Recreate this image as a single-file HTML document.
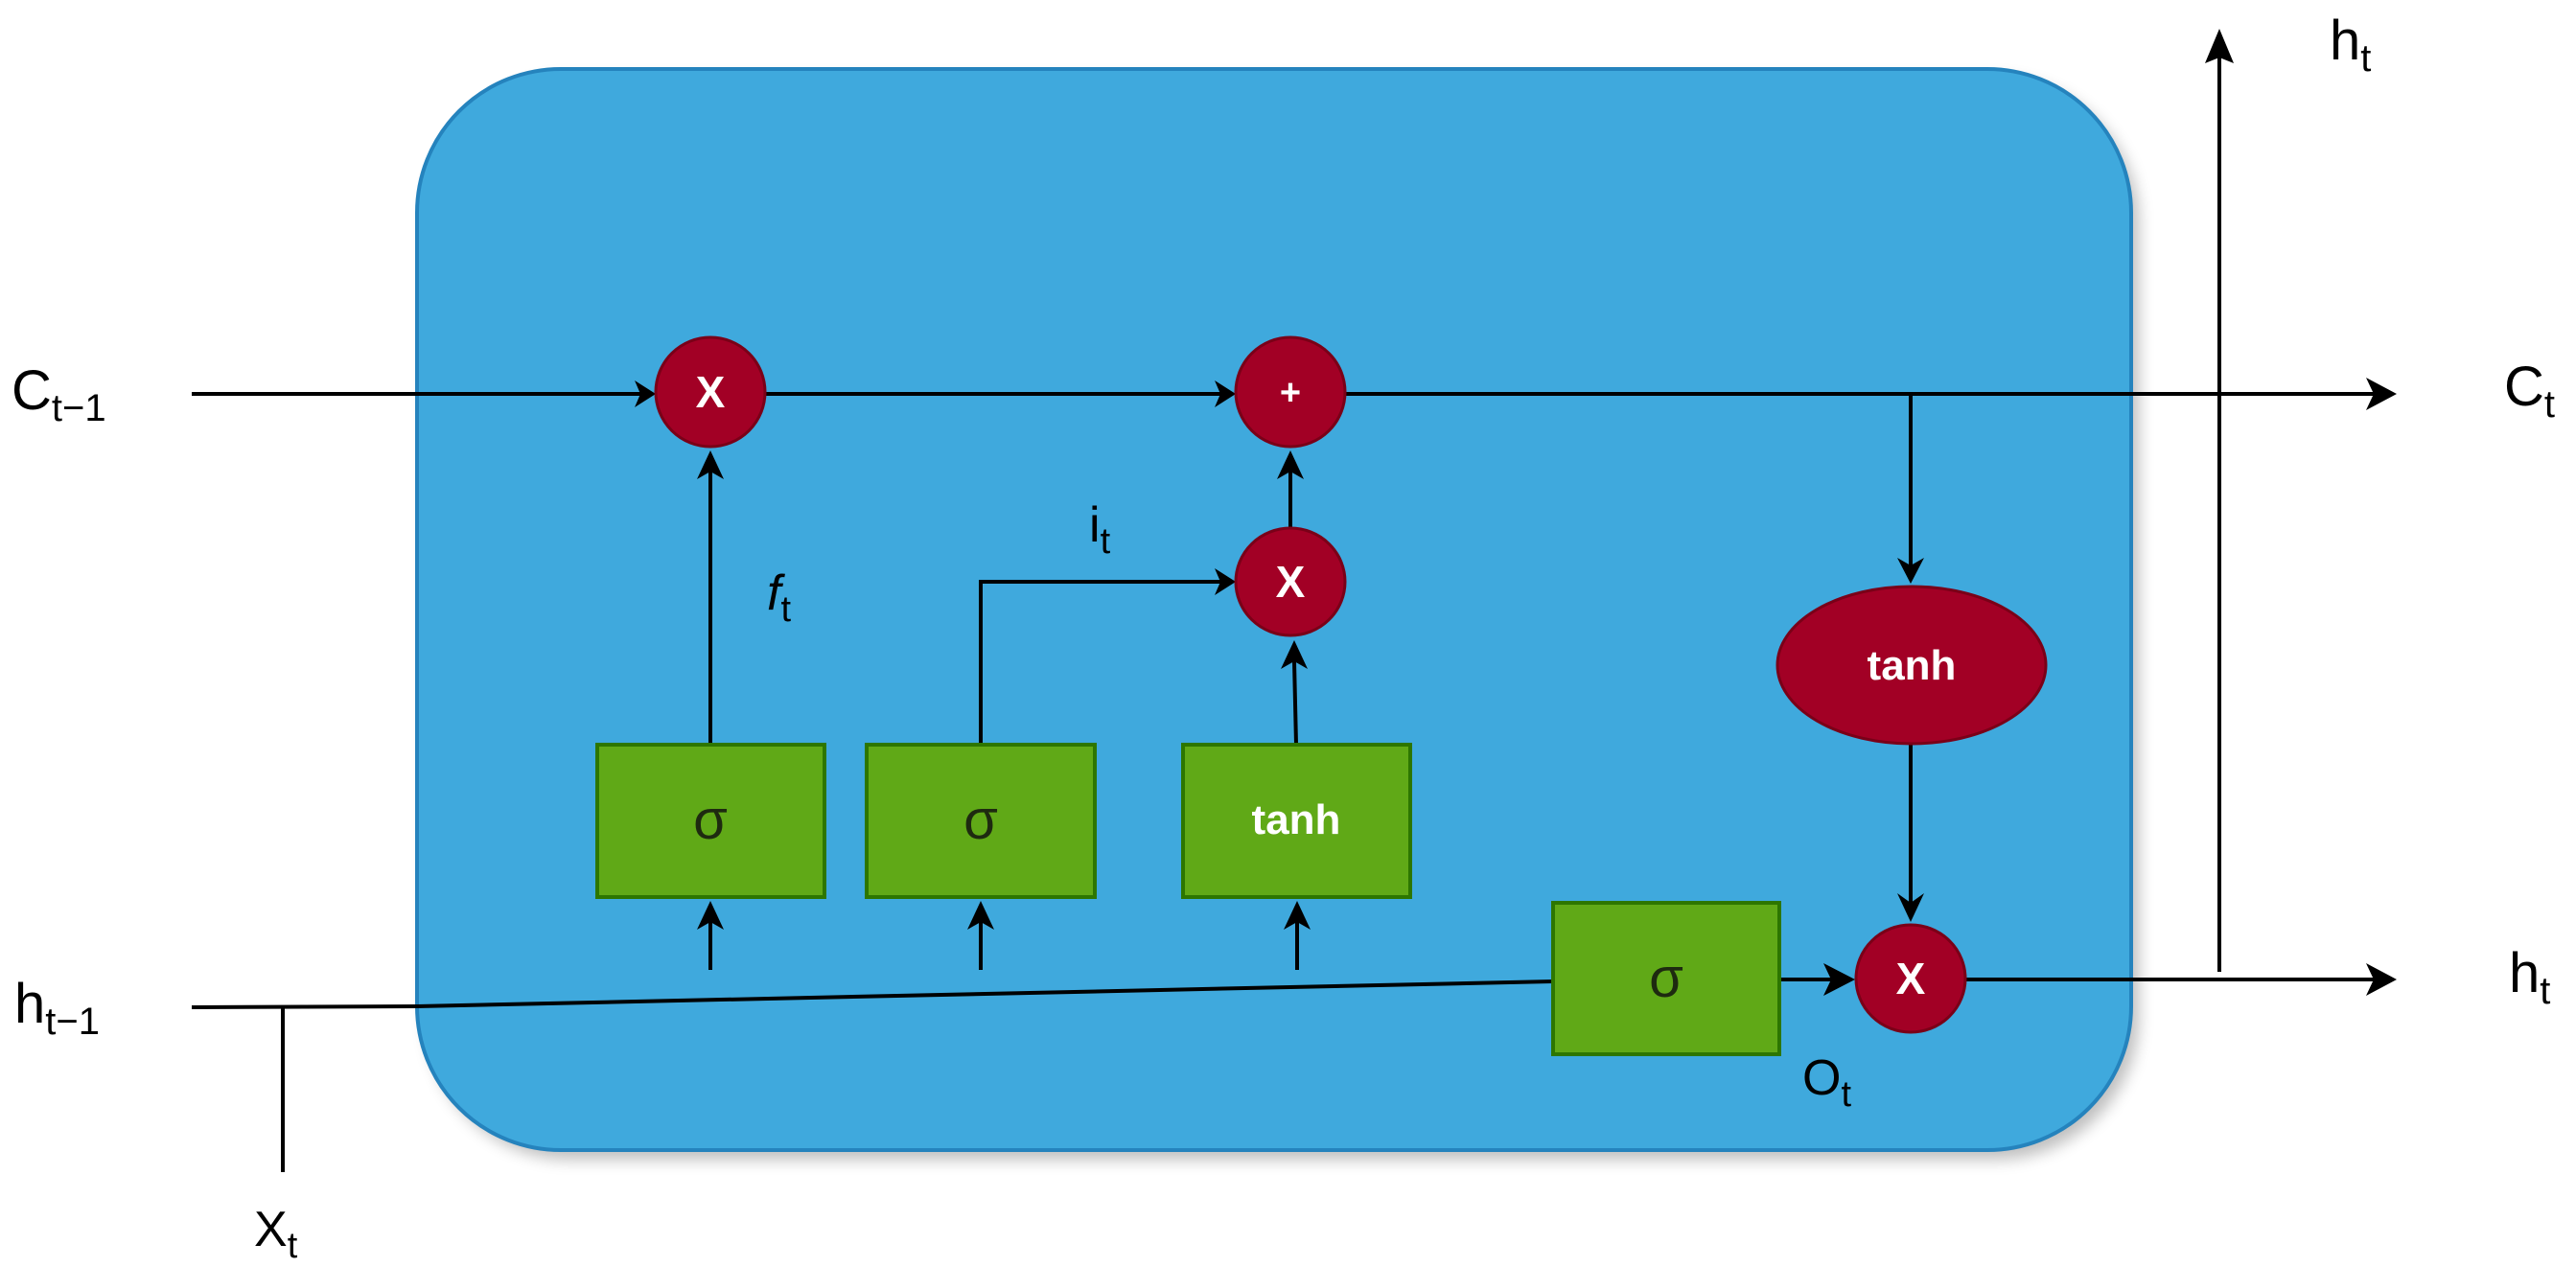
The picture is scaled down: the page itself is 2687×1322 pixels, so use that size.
<!DOCTYPE html>
<html><head><meta charset="utf-8"><style>
html,body{margin:0;padding:0;background:#fff;}
svg{display:block;}
text{font-family:"Liberation Sans",sans-serif;}
</style></head><body>
<svg width="2687" height="1322" viewBox="0 0 2687 1322" xmlns="http://www.w3.org/2000/svg">
<defs>
<marker id="a" markerWidth="10" markerHeight="10" refX="9" refY="5" orient="auto" markerUnits="userSpaceOnUse" viewBox="0 0 10 10">
</marker>
<filter id="sh" x="-5%" y="-5%" width="115%" height="115%"><feGaussianBlur stdDeviation="8"/></filter>
</defs>
<!-- shadow -->
<rect x="445" y="82" width="1786" height="1128" rx="150" ry="150" fill="#000" opacity="0.25" filter="url(#sh)"/>
<rect x="435" y="72" width="1788" height="1128" rx="150" ry="150" fill="#3fa9dd" stroke="#2583bd" stroke-width="4"/>

<g stroke="#000" stroke-width="4" fill="none">
<!-- cell line -->
<line x1="200" y1="411" x2="670" y2="411"/>
<line x1="798" y1="411" x2="1275" y2="411"/>
<line x1="1403" y1="411" x2="2480" y2="411"/>
<!-- down to tanh -->
<line x1="1993" y1="411" x2="1993" y2="590"/>
<line x1="1993" y1="775" x2="1993" y2="945"/>
<!-- h_t up -->
<line x1="2315" y1="1014" x2="2315" y2="55"/>
<!-- f_t -->
<line x1="741" y1="777" x2="741" y2="490"/>
<!-- i_t -->
<polyline points="1023,777 1023,607 1275,607"/>
<!-- tanh box up -->
<line x1="1352" y1="777" x2="1350" y2="690"/>
<line x1="1346" y1="550" x2="1346" y2="490"/>
<!-- h_t-1 line -->
<line x1="200" y1="1051" x2="435" y2="1050"/>
<line x1="435" y1="1050" x2="1620" y2="1024"/>
<line x1="295" y1="1051" x2="295" y2="1223"/>
<!-- arrows up to boxes -->
<line x1="741" y1="1012" x2="741" y2="955"/>
<line x1="1023" y1="1012" x2="1023" y2="955"/>
<line x1="1353" y1="1012" x2="1353" y2="955"/>
<!-- sigma to X -->
<line x1="1856" y1="1022" x2="1915" y2="1022"/>
<line x1="2050" y1="1022" x2="2480" y2="1022"/>
</g>
<!-- arrowheads -->
<g fill="#000">
<polygon points="684,411 662,397 668,411 662,425"/>
<polygon points="1289,411 1267,397 1273,411 1267,425"/>
<polygon points="2500,411 2468,394 2476,411 2468,428"/>
<polygon points="1993,609 1979,582 1993,590 2007,582"/>
<polygon points="1993,962 1979,932 1993,942 2007,932"/>
<polygon points="2315,30 2300,66 2315,60 2330,66"/>
<polygon points="741,470 727,500 741,492 755,500"/>
<polygon points="1346,470 1332,500 1346,492 1360,500"/>
<polygon points="1289,607 1267,593 1273,607 1267,621"/>
<polygon points="1350,668 1336,698 1350,690 1364,698"/>
<polygon points="741,940 727,970 741,962 755,970"/>
<polygon points="1023,940 1009,970 1023,962 1037,970"/>
<polygon points="1353,940 1339,970 1353,962 1367,970"/>
<polygon points="1935,1022 1902,1005 1910,1022 1902,1039"/>
<polygon points="2500,1022 2468,1005 2476,1022 2468,1039"/>
</g>

<!-- red nodes -->
<g fill="#a20025" stroke="#7a0018" stroke-width="3">
<ellipse cx="741" cy="409" rx="57" ry="57"/>
<ellipse cx="1346" cy="409" rx="57" ry="57"/>
<ellipse cx="1346" cy="607" rx="57" ry="56"/>
<ellipse cx="1993" cy="1021" rx="57" ry="56"/>
<ellipse cx="1994" cy="694" rx="140" ry="82"/>
</g>
<!-- green boxes -->
<g fill="#60a917" stroke="#2d7600" stroke-width="4">
<rect x="623" y="777" width="237" height="159"/>
<rect x="904" y="777" width="238" height="159"/>
<rect x="1234" y="777" width="237" height="159"/>
<rect x="1620" y="942" width="236" height="158"/>
</g>

<g fill="#fff" font-weight="bold" text-anchor="middle">
<text x="741" y="425" font-size="46">X</text>
<text x="1346" y="422" font-size="38">+</text>
<text x="1346" y="623" font-size="46">X</text>
<text x="1993" y="1037" font-size="46">X</text>
<text x="1994" y="709" font-size="44">tanh</text>
<text x="1352" y="870" font-size="44">tanh</text>
</g>
<g fill="#1e2a10" text-anchor="middle" font-size="58">
<text x="741" y="875">σ</text>
<text x="1023" y="875">σ</text>
<text x="1738" y="1040">σ</text>
</g>

<g fill="#000">
<text x="12" y="427" font-size="58">C<tspan font-size="40" dy="12">t−1</tspan></text>
<text x="15" y="1067" font-size="58">h<tspan font-size="40" dy="12">t−1</tspan></text>
<text x="265" y="1300" font-size="52">X<tspan font-size="38" dy="12">t</tspan></text>
<text x="2612" y="423" font-size="58">C<tspan font-size="40" dy="12">t</tspan></text>
<text x="2617" y="1035" font-size="58">h<tspan font-size="40" dy="12">t</tspan></text>
<text x="2430" y="62" font-size="58">h<tspan font-size="40" dy="12">t</tspan></text>
<text x="1880" y="1142" font-size="52">O<tspan font-size="38" dy="12">t</tspan></text>
<text x="800" y="636" font-size="52" font-style="italic" font-family="Liberation Serif, serif">f<tspan font-size="38" dy="12" font-style="normal" font-family="Liberation Sans, sans-serif">t</tspan></text>
<text x="1136" y="565" font-size="52">i<tspan font-size="38" dy="12">t</tspan></text>
</g>
</svg>
</body></html>
